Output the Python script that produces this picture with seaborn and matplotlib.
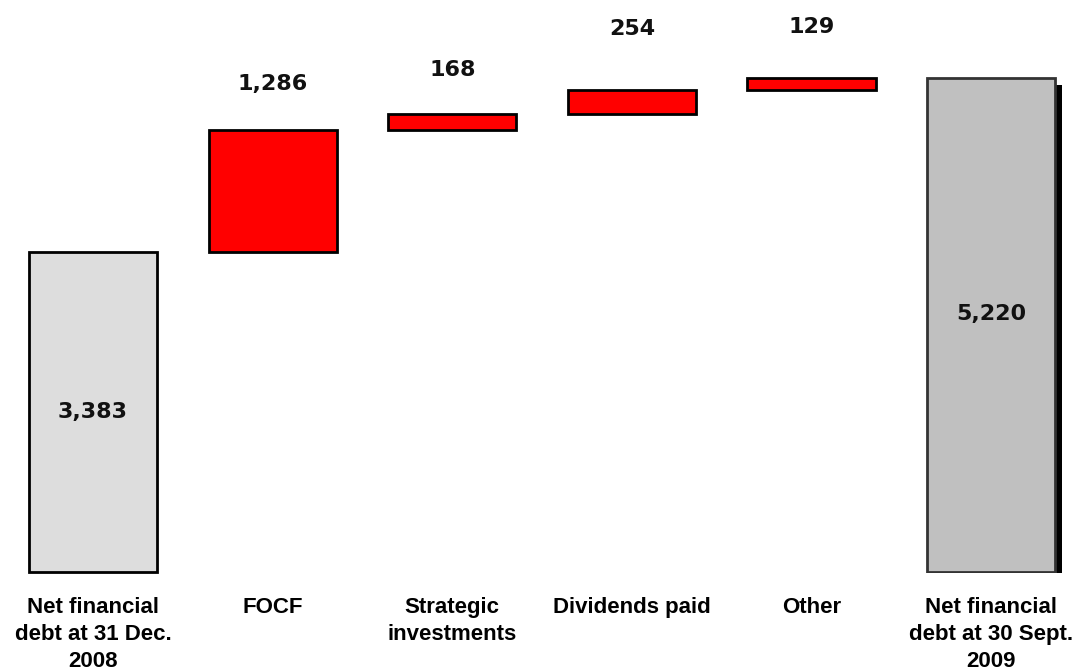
import matplotlib
matplotlib.use("Agg")
import matplotlib.pyplot as plt
import matplotlib.patheffects as pe
from matplotlib.patches import Rectangle
import seaborn as sns
import pandas as pd

categories = ["Net financial\ndebt at 31 Dec.\n2008", "FOCF", "Strategic\ninvestments",
              "Dividends paid", "Other", "Net financial\ndebt at 30 Sept.\n2009"]
values = [3383, 1286, 168, 254, 129, 5220]
kinds = ["total", "delta", "delta", "delta", "delta", "total"]
value_labels = ["3,383", "1,286", "168", "254", "129", "5,220"]

# waterfall bottoms derived from the values
bottoms = []
running = 0
for v, k in zip(values, kinds):
    if k == "total":
        bottoms.append(0)
        running = v
    else:
        bottoms.append(running)
        running += v

colors = ["#DDDDDD", "#FF0000", "#FF0000", "#FF0000", "#FF0000", "#C0C0C0"]
label_offsets_pt = [0, 33, 32, 44, 37, 8]

sns.set_theme(style="white")
plt.rcParams['font.family'] = ['DejaVu Sans']

fig = plt.figure(figsize=(10.82, 6.72), dpi=100)
ax = fig.add_axes([0.003, 0.149, 0.996, 0.851])

df = pd.DataFrame({"cat": categories, "val": values})
sns.barplot(data=df, x="cat", y="val", hue="cat", palette=colors, legend=False,
            width=0.713, edgecolor="black", linewidth=2.0, ax=ax, saturation=1)

ax.set_ylim(0, 6047)
ax.set_xlim(-0.5, 5.5)

for p, b, k in zip(ax.patches, bottoms, kinds):
    p.set_y(b)
    p.set_clip_on(False)

last = ax.patches[5]
last.set_edgecolor("#333333")
last.set_path_effects([pe.SimplePatchShadow(offset=(5, -5), shadow_rgbFace="black", alpha=1.0),
                       pe.Normal()])
clip_rect = Rectangle((last.get_x() - 0.2, -16), last.get_width() + 0.4, 7000,
                      transform=ax.transData)
last.set_clip_on(True)
last.set_clip_path(clip_rect)

for i, (p, b, v, k) in enumerate(zip(ax.patches, bottoms, values, kinds)):
    xc = p.get_x() + p.get_width() / 2
    anchor_y = b + v / 2 if k == "total" else b + v
    ax.annotate(value_labels[i], (xc, anchor_y), xytext=(0, label_offsets_pt[i]),
                textcoords="offset points", ha="center", va="center",
                fontsize=16, fontweight="bold", color="#111111")

ax.set_xlabel("")
ax.set_ylabel("")
ax.set_yticks([])
ax.tick_params(axis="x", length=0, pad=18)
for lbl in ax.get_xticklabels():
    lbl.set_fontfamily("Liberation Sans")
    lbl.set_fontweight("bold")
    lbl.set_fontsize(16)
    lbl.set_multialignment("center")
    lbl.set_linespacing(1.38)
    lbl.set_color("black")
for s in ax.spines.values():
    s.set_visible(False)

fig.savefig("out.png", dpi=100)
